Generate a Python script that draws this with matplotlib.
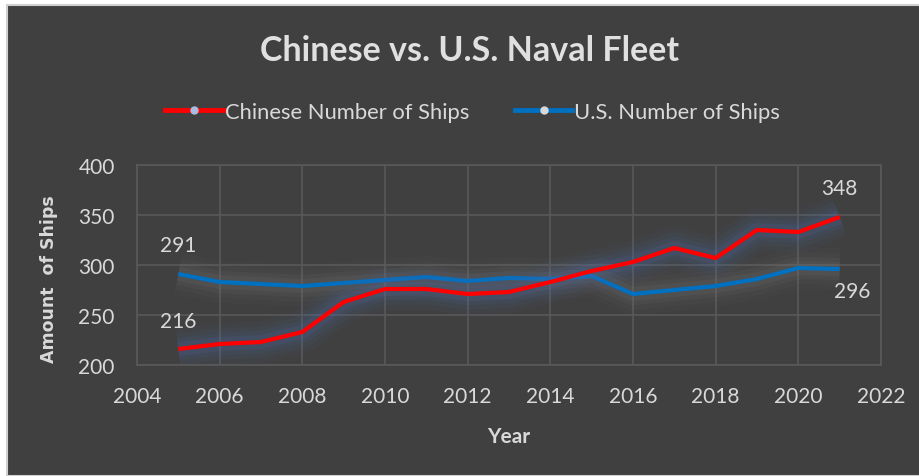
import matplotlib.pyplot as plt
import matplotlib.patheffects as pe
from matplotlib.lines import Line2D
from matplotlib.patches import Rectangle

years = [2005, 2006, 2007, 2008, 2009, 2010, 2011, 2012, 2013,
         2014, 2015, 2016, 2017, 2018, 2019, 2020, 2021]
chinese_ships = [216, 221, 223, 233, 263, 276, 276, 271, 273,
                 283, 294, 303, 317, 307, 335, 333, 348]
us_ships = [291, 283, 281, 279, 282, 285, 288, 284, 287,
            286, 289, 271, 275, 279, 286, 297, 296]

bg = '#404040'
txt = '#d9d9d9'
grid = '#595959'
red = '#ff0000'
blue = '#0070c0'
font = 'Lato'

fig = plt.figure(figsize=(9.2, 4.77), dpi=100)
fig.patch.set_facecolor('white')
# dark chart area with thin light border on left/top
fig.patches.append(Rectangle((7 / 920, 0), 1, 1 - 6 / 477, transform=fig.transFigure,
                             facecolor=bg, edgecolor='#d0d0d0', linewidth=1.5, zorder=-5))

ax = fig.add_axes([137 / 920, 1 - 366 / 477, (881 - 137) / 920, 200 / 477])
ax.set_facecolor(bg)

def glow(col):
    return [pe.Stroke(linewidth=30, foreground=col, alpha=0.06),
            pe.Stroke(linewidth=23, foreground=col, alpha=0.08),
            pe.Stroke(linewidth=16, foreground=col, alpha=0.12),
            pe.Stroke(linewidth=10, foreground=col, alpha=0.18),
            pe.Normal()]

ax.plot(years, us_ships, color=blue, lw=3, solid_capstyle='butt', zorder=3,
        path_effects=glow('#707070'))
ax.plot(years, chinese_ships, color=red, lw=3, solid_capstyle='butt', zorder=4,
        path_effects=glow('#4d6aa5'))

ax.set_xlim(2004, 2022)
ax.set_ylim(200, 400)
ax.set_xticks(range(2004, 2023, 2))
ax.set_yticks(range(200, 401, 50))
ax.grid(True, color=grid, lw=1.2)
ax.set_axisbelow(True)
for s in ax.spines.values():
    s.set_color(grid)
    s.set_linewidth(1.2)
ax.tick_params(length=0, colors=txt, labelsize=15)
ax.tick_params(axis='x', pad=15)
ax.tick_params(axis='y', pad=16)
for lab in ax.get_xticklabels() + ax.get_yticklabels():
    lab.set_fontfamily(font)

# data labels
lab_kw = dict(color=txt, fontsize=15, family=font, ha='center', va='center',
              textcoords='offset points')
ax.annotate(str(us_ships[0]), (years[0], us_ships[0]), xytext=(0, 21), **lab_kw)
ax.annotate(str(chinese_ships[0]), (years[0], chinese_ships[0]), xytext=(0, 20), **lab_kw)
ax.annotate(str(chinese_ships[-1]), (years[-1], chinese_ships[-1]), xytext=(0, 21), **lab_kw)
ax.annotate(str(us_ships[-1]), (years[-1], us_ships[-1]), xytext=(9, -16), **lab_kw)

ax.set_xlabel('Year', color=txt, fontsize=15, fontweight='bold', family=font)
ax.xaxis.set_label_coords(0.5, -0.305)
ax.set_ylabel('Amount  of Ships', color=txt, fontsize=12.5, fontweight='bold',
              family='DejaVu Sans')
ax.yaxis.set_label_coords(-0.106, 0.435)

fig.text(0.51, 1 - 51 / 477, 'Chinese vs. U.S. Naval Fleet', color='#e0e0e0',
         fontsize=24.5, fontweight='bold', family=font, ha='center', va='center')

handles = [Line2D([], [], color=red, lw=3.5, marker='o', markersize=5,
                  markerfacecolor='#a9bde0', markeredgecolor='#a9bde0'),
           Line2D([], [], color=blue, lw=3.5, marker='o', markersize=5,
                  markerfacecolor='#d9d9d9', markeredgecolor='#d9d9d9')]
leg = fig.legend(handles, ['Chinese Number of Ships', 'U.S. Number of Ships'],
                 loc='center', bbox_to_anchor=(0.514, 1 - 113 / 477), ncol=2,
                 frameon=False, handlelength=2.6, handletextpad=0.1,
                 columnspacing=2.1, prop={'family': font, 'size': 15.8})
for t in leg.get_texts():
    t.set_color(txt)

plt.savefig('out.png', dpi=100, facecolor=fig.get_facecolor())
plt.close()
